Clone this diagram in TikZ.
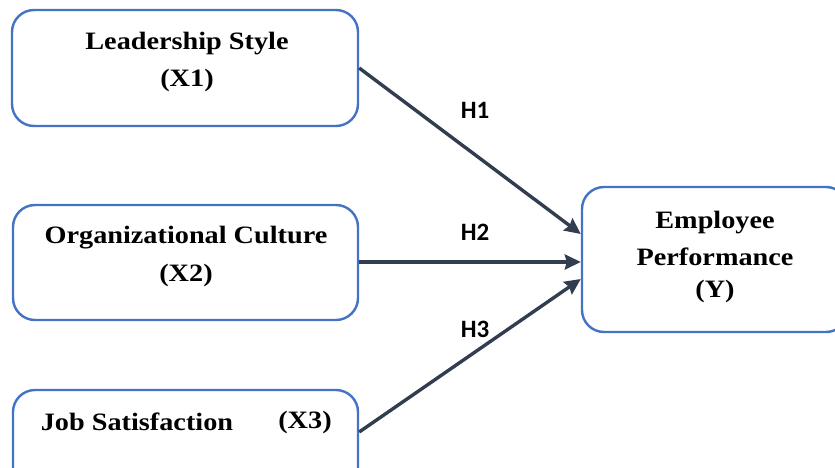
\documentclass[tikz,border=0pt]{standalone}
\usepackage{fontspec}
\setmainfont{Liberation Serif}[FakeStretch=1.13]
\newfontfamily\hfont{Carlito}
\usetikzlibrary{arrows.meta}
\definecolor{boxblue}{HTML}{4472C4}
\definecolor{arrdark}{HTML}{323E4F}
\tikzset{
  varbox/.style={draw=boxblue, line width=2.4pt, rounded corners=22pt, fill=white},
  vtext/.style={font=\fontsize{25}{30}\selectfont\bfseries, inner sep=0pt, anchor=center},
  hlab/.style={font=\hfont\fontsize{25}{30}\selectfont\bfseries, inner sep=0pt},
  arr/.style={draw=arrdark, line width=3.4pt, -{Stealth[inset=2pt,length=16pt,width=15pt]}}
}
\begin{document}
\begin{tikzpicture}[x=1pt,y=-1pt]
\useasboundingbox (0,0) rectangle (835,468);
\clip (0,0) rectangle (835,468);
\node[varbox, minimum width=346pt, minimum height=116pt] (x1) at (185,68) {};
\node[varbox, minimum width=345pt, minimum height=115pt] (x2) at (185.5,262.5) {};
\node[varbox, minimum width=345pt, minimum height=116pt] (x3) at (185.5,448) {};
\node[varbox, minimum width=266pt, minimum height=145pt] (y) at (715,259.5) {};
\node[vtext] (t1a) at (187,44) {Leadership Style};
\node[vtext] (t1b) at (187,80) {(X1)};
\node[vtext] (t2a) at (186,238) {Organizational Culture};
\node[vtext] (t2b) at (186,275) {(X2)};
\node[vtext] (t3a) at (137,422) {Job Satisfaction};
\node[vtext] (t3b) at (305,422) {(X3)};
\node[vtext] (tya) at (715,223) {Employee};
\node[vtext] (tyb) at (715,257) {Performance};
\node[vtext] (tyc) at (715,291) {(Y)};
\draw[arr] ([yshift=0pt]x1.east) -- ([yshift=25.5pt]y.west);
\draw[arr] ([yshift=0.5pt]x2.east) -- ([yshift=-2.5pt]y.west);
\draw[arr] ([yshift=16pt]x3.east) -- ([yshift=-19.5pt]y.west);
\node[hlab] (h1) at (475,110) {H1};
\node[hlab] (h2) at (475,232) {H2};
\node[hlab] (h3) at (475,329) {H3};
\end{tikzpicture}
\end{document}
